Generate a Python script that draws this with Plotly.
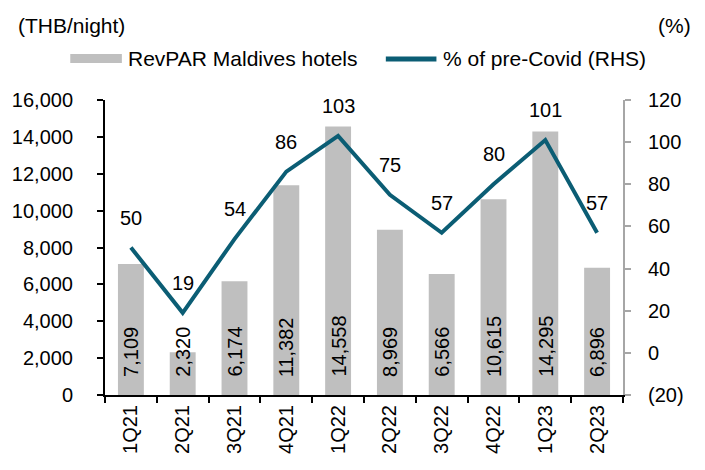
import plotly.graph_objects as go

categories = ["1Q21", "2Q21", "3Q21", "4Q21", "1Q22", "2Q22", "3Q22", "4Q22", "1Q23", "2Q23"]
revpar = [7109, 2320, 6174, 11382, 14558, 8969, 6566, 10615, 14295, 6896]
pct_precovid = [50, 19, 54, 86, 103, 75, 57, 80, 101, 57]
series_names = ["RevPAR Maldives hotels", "% of pre-Covid (RHS)"]
left_ticks = [0, 2000, 4000, 6000, 8000, 10000, 12000, 14000, 16000]
right_ticks = [-20, 0, 20, 40, 60, 80, 100, 120]
right_tick_text = ["(20)", "0", "20", "40", "60", "80", "100", "120"]
unit_labels = ["(THB/night)", "(%)"]

FONT = "Liberation Sans, Arial, sans-serif"
FS = 20
FS_LEG = 21
BAR_C = "#BFBFBF"
LINE_C = "#0B5D74"
GRAY_AX = "#A6A6A6"

W, H = 705, 470
L, R, T, B = 101, 82, 100, 75
PW, PH = W - L - R, H - T - B


def px(xp):
    return (xp - L) / PW


def py(yp):
    return (H - B - yp) / PH


fig = go.Figure()
fig.add_trace(go.Bar(x=categories, y=revpar, name=series_names[0],
                     marker=dict(color=BAR_C, line=dict(width=0)), width=0.5,
                     showlegend=False, hoverinfo="skip"))
fig.add_trace(go.Scatter(x=categories, y=pct_precovid, name=series_names[1],
                         mode="lines", line=dict(color=LINE_C, width=4), yaxis="y2",
                         showlegend=False, hoverinfo="skip"))

tfont = dict(family=FONT, size=FS, color="black")
lfont = dict(family=FONT, size=FS_LEG, color="black")
ann = []
for c, v in zip(categories, revpar):
    ann.append(dict(x=c, y=0, xref="x", yref="y", text=f"{v:,}", textangle=-90,
                    showarrow=False, yanchor="bottom", yshift=16, font=tfont))
for c, v in zip(categories, pct_precovid):
    ann.append(dict(x=c, y=v, xref="x", yref="y2", text=str(v), showarrow=False,
                    yanchor="middle", yshift=30, font=tfont))
# unit labels
ann.append(dict(x=px(11), y=py(25), xref="paper", yref="paper", text=unit_labels[0],
                showarrow=False, xanchor="left", yanchor="middle", font=lfont))
ann.append(dict(x=px(694), y=py(25), xref="paper", yref="paper", text=unit_labels[1],
                showarrow=False, xanchor="right", yanchor="middle", font=lfont))
# custom legend texts
ann.append(dict(x=px(122), y=py(58), xref="paper", yref="paper", text=series_names[0],
                showarrow=False, xanchor="left", yanchor="middle", font=lfont))
ann.append(dict(x=px(440), y=py(58), xref="paper", yref="paper", text=series_names[1],
                showarrow=False, xanchor="left", yanchor="middle", font=lfont))

shapes = [
    dict(type="rect", xref="paper", yref="paper", x0=px(66), x1=px(118), y0=py(54), y1=py(63),
         fillcolor=BAR_C, line=dict(width=0)),
    dict(type="line", xref="paper", yref="paper", x0=px(384), x1=px(435), y0=py(59), y1=py(59),
         line=dict(color=LINE_C, width=5)),
]

fig.update_layout(
    width=W, height=H,
    margin=dict(l=L, r=R, t=T, b=B),
    paper_bgcolor="white", plot_bgcolor="white",
    font=dict(family=FONT, size=FS, color="black"),
    showlegend=False,
    xaxis=dict(type="category", tickson="boundaries", ticks="outside", ticklen=6,
               tickcolor="black", tickwidth=2, showline=True, linecolor="black", linewidth=2,
               tickangle=-90, showgrid=False, range=[-0.5, 9.5]),
    yaxis=dict(range=[0, 16000], tickvals=left_ticks, tickformat=",", ticks="outside",
               ticklen=6, tickcolor="black", tickwidth=2, showline=True, linecolor="black",
               linewidth=2, showgrid=False, zeroline=False, ticklabelstandoff=20),
    yaxis2=dict(range=[-20, 120], tickvals=right_ticks, ticktext=right_tick_text,
                overlaying="y", side="right", ticks="outside", ticklen=6, tickcolor=GRAY_AX,
                tickwidth=2, showline=True, linecolor=GRAY_AX, linewidth=2,
                showgrid=False, zeroline=False, ticklabelstandoff=13),
    annotations=ann,
    shapes=shapes,
)

fig.write_html("out.html", config={"displayModeBar": False},
               post_script="document.body.style.margin='0px';document.body.style.overflow='hidden';")
